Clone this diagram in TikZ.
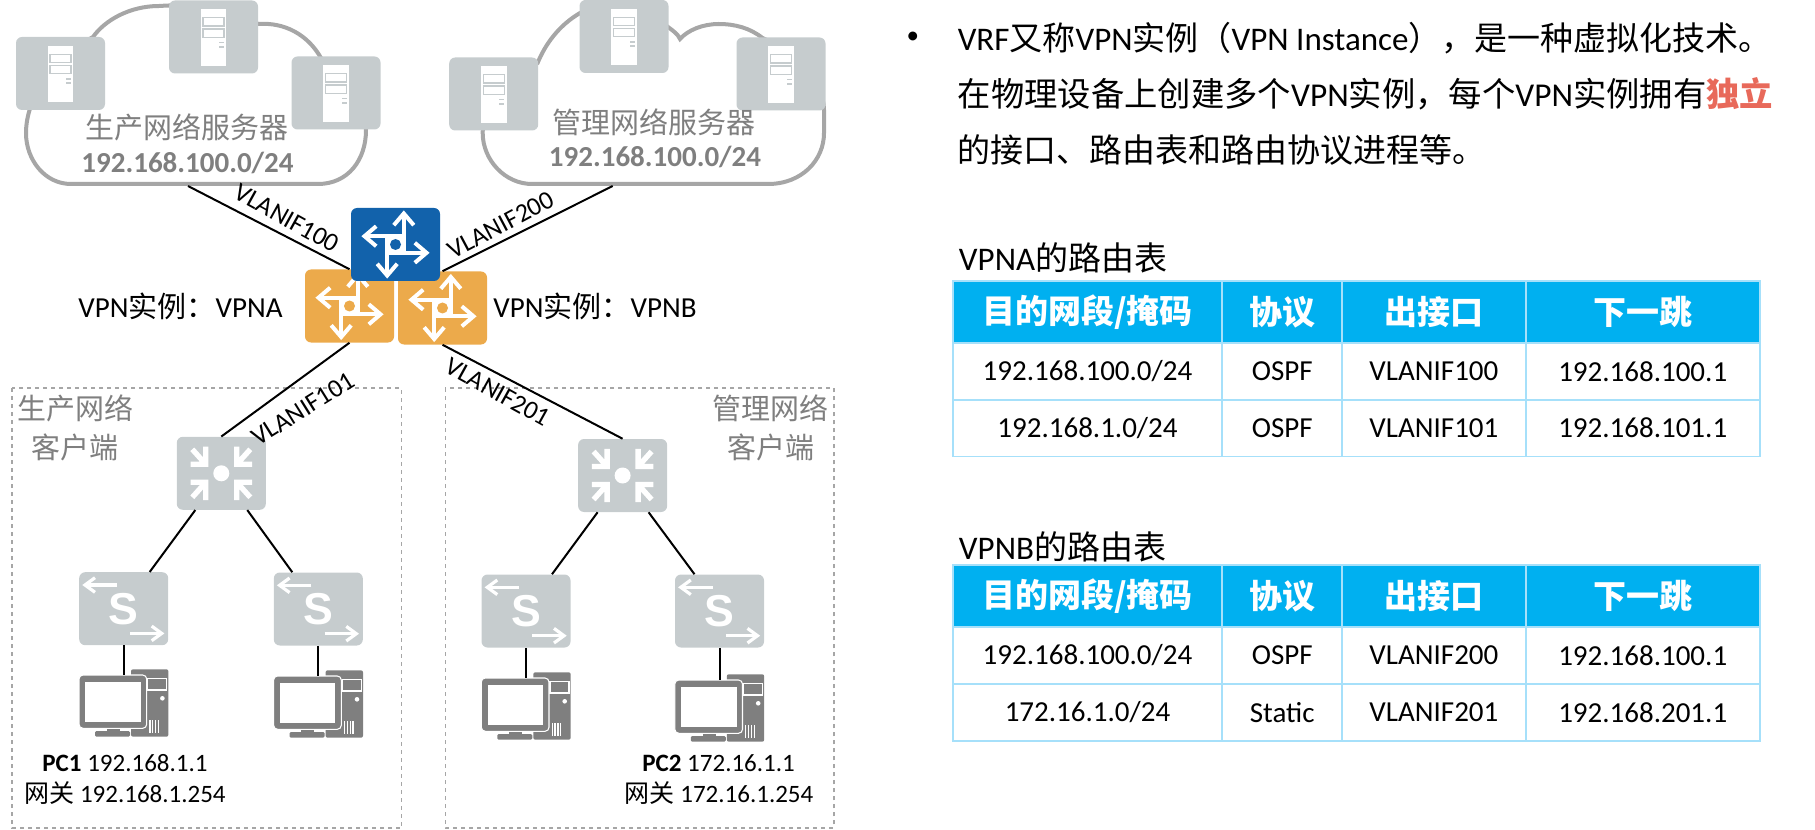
\documentclass[tikz,border=0pt]{standalone}
\usepackage{fontspec}
\setmainfont{Carlito}
\newfontfamily\cjk{Noto Sans CJK SC}
\usetikzlibrary{calc}
\definecolor{DeviceGray}{HTML}{C6CCCE}
\definecolor{CloudGray}{HTML}{A6A6A6}
\definecolor{TextGray}{HTML}{7F7F7F}
\definecolor{PcGray}{HTML}{7F7F7F}
\definecolor{RouterBlue}{HTML}{1262AB}
\definecolor{RouterOrange}{HTML}{ECAA4B}
\definecolor{HeadBlue}{HTML}{00B0F0}
\definecolor{GridBlue}{HTML}{A6E0FA}
\definecolor{AccentRed}{HTML}{E8695A}
\tikzset{
    txtbig/.style={inner sep=0pt, font=\fontsize{24.75}{30}\selectfont},
    txtmid/.style={inner sep=0pt, font=\fontsize{21.75}{26}\selectfont},
    txtvlan/.style={inner sep=0pt, font=\fontsize{19.5}{24}\selectfont},
    txtpc/.style={inner sep=0pt, font=\fontsize{18.75}{23}\selectfont},
    link/.style={draw=black, line width=1.5pt},
    zonebox/.style={draw=CloudGray, line width=1.1pt, dashed},
    cloudline/.style={draw=CloudGray, fill=white, line width=3pt},
    devbox/.style={rectangle, rounded corners=4.5pt, inner sep=0pt,
        minimum width=66.75pt, minimum height=54.75pt, fill=DeviceGray},
    accesssw/.style={devbox, text=white, font=\fontsize{33.5}{33.5}\selectfont\bfseries\fontspec{Liberation Sans}},
    pcset/.style={rectangle, inner sep=0pt, minimum width=67pt, minimum height=51pt},
    pics/servermark/.style={code={
        \fill[white] (-12.8,-27.7) rectangle (12.8,28.7);
        \draw[DeviceGray, line width=1pt] (-10.5,-19.3) rectangle (10.5,-11);
        \draw[DeviceGray, line width=1pt] (-10.5,-8) rectangle (10.5,0.3);
        \fill[DeviceGray] (5.5,4.7) rectangle (10.5,6.5);
        \fill[DeviceGray] (5.5,8.7) rectangle (10.5,10.7);
    }},
    pics/routermark/.style={code={
        \fill[white] (-9.5,-9.5) rectangle (9.5,9.5);
        \fill[#1] (0,0) circle (5.5);
        \foreach \r in {0,90,180,270} {
            \draw[white, line width=3pt, rotate=\r] (8.3,8.3) -- (8.3,-31);
            \draw[white, line width=3pt, rotate=\r] (-1.7,-19.3) -- (8.3,-31) -- (18.3,-19.3);
        }
    }},
    pics/coremark/.style={code={
        \fill[white] (0,0) circle (8);
        \foreach \sx/\sy in {1/1,-1/1,1/-1,-1/-1} {
            \draw[white, line width=4pt, xscale=\sx, yscale=\sy]
                (-30.7,-9) -- (-15.5,-9) -- (-15.5,-26.7)
                (-15.5,-9) -- (-29,-24);
        }
    }},
    pics/accessmark/.style={code={
        \draw[white, line width=2.4pt] (-7,-23.7) -- (-38.7,-23.7);
        \draw[white, line width=2.4pt] (-28.7,-31) -- (-38.7,-23.7) -- (-28.7,-16.4);
        \draw[white, line width=2.4pt] (6.3,24.7) -- (38,24.7);
        \draw[white, line width=2.4pt] (28,17.4) -- (38,24.7) -- (28,32);
    }},
    pics/pcmark/.style={code={
        \fill[PcGray, rounded corners=1.5pt] (7.3,-33.7) rectangle (44.7,33.7);
        \filldraw[fill=PcGray, draw=white, line width=0.8pt] (24,-24.7) rectangle (43,-13);
        \fill[white] (38.7,-4.7) circle (2.3);
        \foreach \vx in {26.3,29,32,34.7}
            \draw[white, line width=1pt] (\vx,17) -- (\vx,30);
        \fill[PcGray] (-17,24) rectangle (-4,30);
        \fill[PcGray, rounded corners=1pt] (-28.7,28) rectangle (6.3,33.7);
        \filldraw[fill=PcGray, draw=white, line width=0.8pt, rounded corners=3pt] (-44.7,-28) rectangle (23,25.3);
        \fill[white] (-38.3,-21.3) rectangle (17,18.7);
    }},
    headcell/.style={draw=GridBlue, line width=1.4pt, fill=HeadBlue, text=white, inner sep=0pt,
        minimum height=46.5pt, font=\fontsize{24.75}{30}\selectfont\cjk\bfseries},
    bodycell/.style={draw=GridBlue, line width=1.4pt, inner sep=0pt,
        minimum height=42.75pt, font=\fontsize{21.75}{26}\selectfont},
    cola/.style={minimum width=202.2pt},
    colb/.style={minimum width=89.8pt},
    colc/.style={minimum width=137.9pt},
    cold/.style={minimum width=175.35pt}
}

\begin{document}
\begin{tikzpicture}[x=0.75pt, y=-0.75pt]

\useasboundingbox (0,0) rectangle (1815,830);

% 虚线区域
\draw[zonebox] (12,388) rectangle (401.5,828);
\draw[zonebox] (445.4,388) rectangle (833.8,828);

% 云
\draw[cloudline] (71,184) -- (318,184)
    .. controls (348,184) and (366,160) .. (366,130)
    .. controls (366,105) and (345,80) .. (321,58)
    .. controls (308,35) and (285,22) .. (258,24)
    .. controls (235,5) and (190,4) .. (159,6)
    .. controls (130,6) and (105,20) .. (93,37)
    .. controls (50,60) and (26,100) .. (26,133)
    .. controls (26,160) and (45,184) .. (71,184) -- cycle;
\draw[cloudline] (532,184) -- (768,184)
    .. controls (802,184) and (824,160) .. (824,133)
    -- (824,110)
    .. controls (824,80) and (790,50) .. (762.5,38)
    .. controls (750,28) and (735,24) .. (718.6,24)
    .. controls (703,24) and (688,30) .. (680,39)
    .. controls (678,34) and (672,30) .. (668,27)
    .. controls (640,5) and (600,5) .. (580,13)
    .. controls (558,26) and (545,45) .. (537.6,63)
    .. controls (490,90) and (482.7,110) .. (482.7,133)
    .. controls (482.7,160) and (505,184) .. (532,184) -- cycle;
\coordinate (cloudA) at (188,186);
\coordinate (cloudB) at (612.7,186);

% 设备
\foreach \nm/\cx/\cy in {srvA/60.5/73.5, srvB/213.5/37, srvC/336/93,
                         srvD/493.7/94, srvE/624/36.5, srvF/781/74} {
    \node[devbox] (\nm) at (\cx,\cy) {};
    \pic at (\nm.center) {servermark};
}

\node[devbox, fill=RouterOrange] (vrfA) at (349.5,306) {};
\pic at (vrfA.center) {routermark=RouterOrange};
\node[devbox, fill=RouterOrange] (vrfB) at (442.5,308) {};
\pic at (vrfB.center) {routermark=RouterOrange};
\node[devbox, fill=RouterBlue] (vrfMain) at (395.5,244.5) {};
\pic at (vrfMain.center) {routermark=RouterBlue};

\foreach \nm/\cx/\cy in {coreA/221.3/473.3, coreB/622.6/475.5} {
    \node[devbox] (\nm) at (\cx,\cy) {};
    \pic at (\nm.center) {coremark};
}

\foreach \nm/\cx/\cy in {swA/123.7/608.7, swB/318.3/609, swC/526/611, swD/719.5/611} {
    \node[accesssw] (\nm) at (\cx,\cy) {S};
    \pic at (\nm.center) {accessmark};
}

\foreach \nm/\cx/\cy in {pcA/123.7/703, pcB/318.3/704, pcC/526/706, pcD/719.5/708} {
    \node[pcset] (\nm) at (\cx,\cy) {};
    \pic at (\nm.center) {pcmark};
}

% 连线
\draw[link] (cloudA) -- (vrfA.north);
\draw[link] (cloudB) -- (vrfB.north);
\draw[link] (vrfA.south) -- (coreA.north);
\draw[link] (vrfB.south) -- (coreB.north);
\draw[link] ($(coreA.south)+(-26,0)$) -- ($(swA.north)+(26,0)$);
\draw[link] ($(coreA.south)+(26,0)$) -- ($(swB.north)+(-26,0)$);
\draw[link] ($(coreB.south)+(-25,0)$) -- ($(swC.north)+(26,0)$);
\draw[link] ($(coreB.south)+(26,0)$) -- ($(swD.north)+(-25,0)$);
\draw[link] (swA.south) -- ($(pcA.center)+(0,-28)$);
\draw[link] (swB.south) -- ($(pcB.center)+(0,-28)$);
\draw[link] (swC.south) -- ($(pcC.center)+(0,-28)$);
\draw[link] (swD.south) -- ($(pcD.center)+(0,-28)$);

% 云和区域的文字
\node[txtmid, text=TextGray] (nameA) at (187,127) {\cjk 生产网络服务器};
\node[txtmid, text=TextGray] (netA) at (187.5,163) {\bfseries 192.168.100.0/24};
\node[txtmid, text=TextGray] (nameB) at (653.7,122) {\cjk 管理网络服务器};
\node[txtmid, text=TextGray] (netB) at (655,157) {\bfseries 192.168.100.0/24};
\node[txtmid, text=TextGray] (zoneAa) at (75.6,408) {\cjk 生产网络};
\node[txtmid, text=TextGray] (zoneAb) at (75,447) {\cjk 客户端};
\node[txtmid, text=TextGray] (zoneBa) at (770.7,408) {\cjk 管理网络};
\node[txtmid, text=TextGray] (zoneBb) at (771,447) {\cjk 客户端};

% 接口和实例
\node[txtvlan, rotate=-29] (ifA) at (287,218) {VLANIF100};
\node[txtvlan, rotate=28] (ifB) at (501,225) {VLANIF200};
\node[txtvlan, rotate=32] (ifC) at (303,409) {VLANIF101};
\node[txtvlan, rotate=-29] (ifD) at (498,392) {VLANIF201};
\node[txtmid] (instA) at (180.5,306) {VPN{\cjk 实例：}VPNA};
\node[txtmid] (instB) at (595,306) {VPN{\cjk 实例：}VPNB};

% PC
\node[txtpc] (ipA) at (125,763) {\textbf{PC1} 192.168.1.1};
\node[txtpc] (gwA) at (125,793) {{\cjk 网关} 192.168.1.254};
\node[txtpc] (ipB) at (718.6,763) {\textbf{PC2} 172.16.1.1};
\node[txtpc] (gwB) at (719,793) {{\cjk 网关} 172.16.1.254};

% 说明文字
\node[txtpc] (dot) at (912.8,38) {•};
\node[txtbig, anchor=west] (lineA) at (957.5,38) {VRF{\cjk 又称}VPN{\cjk 实例（}VPN Instance{\cjk ），是一种虚拟化技术。}};
\node[txtbig, anchor=west, font=\fontsize{25}{30}\selectfont] (lineB) at (957.5,94) {{\cjk 在物理设备上创建多个}VPN{\cjk 实例，每个}VPN{\cjk 实例拥有}{\cjk\bfseries\color{AccentRed}独立}};
\node[txtbig, anchor=west] (lineC) at (957.5,150) {{\cjk 的接口、路由表和路由协议进程等。}};

% 路由表
\node[txtbig, anchor=west] (titleA) at (958.7,258) {VPNA{\cjk 的路由表}};
\node[txtbig, anchor=west] (titleB) at (958.7,547) {VPNB{\cjk 的路由表}};

\foreach \tb/\yy in {A/312, B/596} {
    \node[headcell, cola] (\tb ha) at (1087.5,\yy) {目的网段/掩码};
    \node[headcell, colb] (\tb hb) at (1282.2,\yy) {协议};
    \node[headcell, colc] (\tb hc) at (1433.9,\yy) {出接口};
    \node[headcell, cold] (\tb hd) at (1642.7,\yy) {下一跳};
}

\foreach \rw/\yy/\ca/\cb/\cc/\cd in {
    Aa/371.5/192.168.100.0\slash 24/OSPF/VLANIF100/192.168.100.1,
    Ab/428/192.168.1.0\slash 24/OSPF/VLANIF101/192.168.101.1,
    Ba/655.5/192.168.100.0\slash 24/OSPF/VLANIF200/192.168.100.1,
    Bb/712.5/172.16.1.0\slash 24/Static/VLANIF201/192.168.201.1} {
    \node[bodycell, cola] (\rw a) at (1087.5,\yy) {\ca};
    \node[bodycell, colb] (\rw b) at (1282.2,\yy) {\cb};
    \node[bodycell, colc] (\rw c) at (1433.9,\yy) {\cc};
    \node[bodycell, cold] (\rw d) at (1642.7,\yy) {\cd};
}

\end{tikzpicture}
\end{document}
